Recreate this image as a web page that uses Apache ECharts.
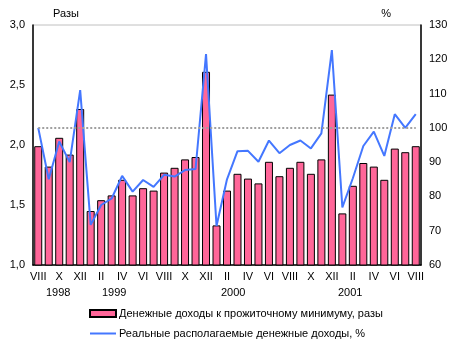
<!DOCTYPE html>
<html><head><meta charset="utf-8">
<script src="https://cdn.jsdelivr.net/npm/echarts@6/dist/echarts.min.js"></script>
<style>html,body{margin:0;padding:0;background:#fff}#c{width:456px;height:356px}</style>
</head><body><div id="c"></div>
<script>
const months = ['VIII','IX','X','XI','XII','I','II','III','IV','V','VI','VII','VIII','IX','X','XI','XII',
  'I','II','III','IV','V','VI','VII','VIII','IX','X','XI','XII','I','II','III','IV','V','VI','VII','VIII'];
const ratioValues = [1.99,1.82,2.06,1.92,2.30,1.45,1.54,1.58,1.71,1.58,1.64,1.62,1.77,1.81,1.88,1.90,2.61,
  1.33,1.62,1.76,1.72,1.68,1.86,1.74,1.81,1.86,1.76,1.88,2.42,1.43,1.66,1.85,1.82,1.71,1.97,1.94,1.99];
const realIncome = [100,85,96,90,111,71.7,77.5,79.4,86,81.4,84.8,82.8,86.3,85.8,87.7,88,121.5,
  71.4,85,93.2,93.3,90.1,96.3,92.6,95,96.3,94,98.4,122.7,76.8,85.3,94.7,98.9,91.8,104,100,104];
const years = [{t:'1998',x:58},{t:'1999',x:114},{t:'2000',x:233},{t:'2001',x:350}];
const barName = 'Денежные доходы к прожиточному минимуму, разы';
const lineName = 'Реальные располагаемые денежные доходы, %';
const font = 'Arial, "Liberation Sans", sans-serif';

const chart = echarts.init(document.getElementById('c'));
chart.setOption({
  animation: false,
  textStyle: {fontFamily: font},
  grid: {left: 33, right: 35, top: 25, bottom: 91, show: true, borderColor: '#c0c0c0', borderWidth: 1},
  xAxis: {type: 'category', data: months, boundaryGap: true,
    axisLine: {lineStyle: {color: '#000', width: 1.5}}, axisTick: {show: false},
    axisLabel: {interval: 1, color: '#000', fontSize: 11, margin: 6, fontFamily: font}},
  yAxis: [
    {type: 'value', min: 1, max: 3, interval: 0.5, name: 'Разы', nameGap: 6,
     nameTextStyle: {color: '#000', fontSize: 11, align: 'left', padding: [0,0,0,20]},
     axisLine: {show: true, lineStyle: {color: '#000', width: 1.5}}, axisTick: {show: false}, splitLine: {show: false},
     axisLabel: {color: '#000', fontSize: 11, margin: 8, formatter: v => v.toFixed(1).replace('.', ',')}},
    {type: 'value', min: 60, max: 130, interval: 10, name: '%', nameGap: 6,
     nameTextStyle: {color: '#000', fontSize: 11, align: 'right', padding: [0,30,0,0]},
     axisLine: {show: true, lineStyle: {color: '#000', width: 1.5}}, axisTick: {show: false}, splitLine: {show: false},
     axisLabel: {color: '#000', fontSize: 11, margin: 8}}
  ],
  legend: {orient: 'vertical', left: 84, top: 303, itemWidth: 26, itemHeight: 7, itemGap: 9,
    textStyle: {color: '#000', fontSize: 11, fontFamily: font, padding: [0,0,0,-2]},
    data: [{name: barName, icon: 'rect'}, {name: lineName, icon: 'path://M0,0L26,0L26,2L0,2Z'}]},
  series: [
    {name: barName, type: 'bar', data: ratioValues, barWidth: 8,
     itemStyle: {color: '#ff6699', borderColor: '#000', borderWidth: 1}},
    {name: lineName, type: 'line', yAxisIndex: 1, data: realIncome, symbol: 'none',
     lineStyle: {color: '#4477ff', width: 2}, itemStyle: {color: '#4477ff'},
     markLine: {silent: true, symbol: 'none', label: {show: false},
       lineStyle: {color: '#a0a0a0', type: 'dotted', width: 2},
       data: [[{coord: [0, 100]}, {coord: [36, 100]}]]}}
  ],
  graphic: years.map(y => ({type: 'text', left: y.x - 12, top: 287,
    style: {text: y.t, fill: '#000', font: '11px ' + font}}))
});
</script></body></html>
